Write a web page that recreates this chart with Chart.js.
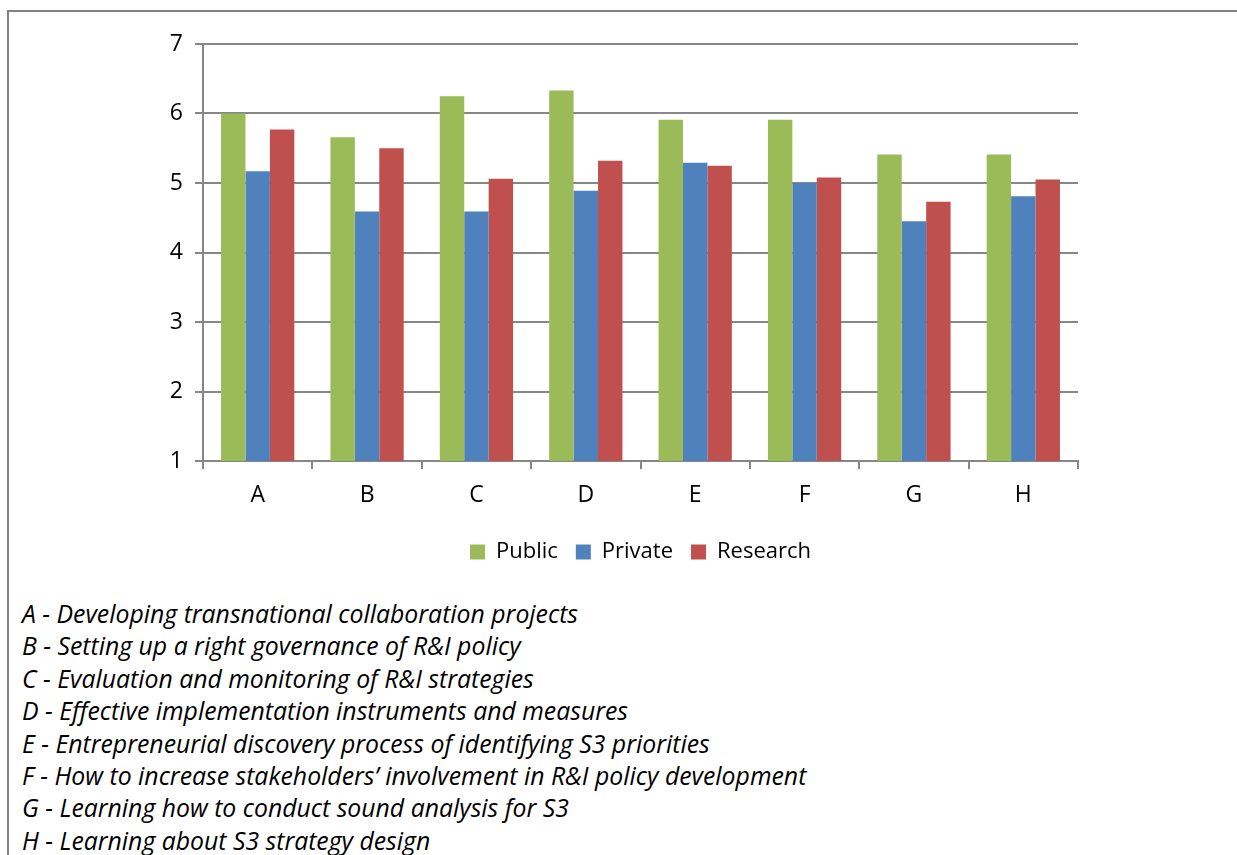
<!DOCTYPE html>
<html>
<head>
<meta charset="utf-8">
<script src="https://cdn.jsdelivr.net/npm/chart.js@4.4.1/dist/chart.umd.min.js"></script>
<style>
  body { margin: 0; background: #fff; }
  #frame {
    position: absolute; left: 7px; top: 10px; width: 1240px; height: 860px;
    border-top: 2px solid #828282; border-left: 2px solid #828282;
  }
  #wrap { position: absolute; left: 0; top: 0; width: 1237px; height: 580px; }
  #notes {
    position: absolute; left: 22px; top: 597px;
    font-family: "Open Sans", sans-serif; font-style: italic;
    font-size: 24.8px; line-height: 32.4px; color: #000; white-space: nowrap;
  }
</style>
</head>
<body>
<div id="frame"></div>
<div id="wrap"><canvas id="barChart"></canvas></div>
<div id="notes"></div>
<script>
// Chart data
var categories = ["A", "B", "C", "D", "E", "F", "G", "H"];
var publicVals = [6.0, 5.66, 6.25, 6.33, 5.91, 5.91, 5.41, 5.41];
var privateVals = [5.17, 4.59, 4.59, 4.89, 5.29, 5.0, 4.45, 4.81];
var researchVals = [5.77, 5.5, 5.06, 5.32, 5.25, 5.08, 4.73, 5.05];
var yTicks = [1, 2, 3, 4, 5, 6, 7];

var descriptions = [
    "A - Developing transnational collaboration projects",
    "B - Setting up a right governance of R&I policy",
    "C - Evaluation and monitoring of R&I strategies",
    "D - Effective implementation instruments and measures",
    "E - Entrepreneurial discovery process of identifying S3 priorities",
    "F - How to increase stakeholders\u2019 involvement in R&I policy development",
    "G - Learning how to conduct sound analysis for S3",
    "H - Learning about S3 strategy design"
];

document.getElementById("notes").innerHTML = descriptions.join("<br>");

var gridGray = "#878787";

var ctx = document.getElementById("barChart").getContext('2d');
var myBarChart = new Chart(ctx, {
    type: 'bar',
    data: {
        labels: categories,
        datasets: [{
                label: "Public",
                data: publicVals,
                backgroundColor: "#9BBB59"
            },
            {
                label: "Private",
                data: privateVals,
                backgroundColor: "#4F81BD"
            },
            {
                label: "Research",
                data: researchVals,
                backgroundColor: "#C0504D"
            }
        ]
    },
    options: {
        responsive: true,
        maintainAspectRatio: false,
        animation: false,
        categoryPercentage: 0.67,
        barPercentage: 1.0,
        layout: {
            padding: { left: 0, right: 159, top: 44, bottom: 7 }
        },
        plugins: {
            tooltip: { enabled: false },
            legend: {
                position: 'bottom',
                fullSize: false,
                labels: {
                    boxWidth: 15,
                    boxHeight: 15,
                    padding: 18,
                    color: "#000",
                    font: { family: "Open Sans", size: 22 }
                }
            }
        },
        scales: {
            x: {
                afterFit: function (scale) { scale.height = 62; },
                grid: {
                    offset: true,
                    drawOnChartArea: false,
                    drawTicks: true,
                    tickLength: 8,
                    color: gridGray,
                    lineWidth: 2
                },
                border: { color: gridGray, width: 2 },
                ticks: {
                    padding: 13,
                    color: "#000",
                    font: { family: "Open Sans", size: 23 }
                }
            },
            y: {
                min: 1,
                max: 7,
                afterFit: function (scale) { scale.width = 203; },
                afterBuildTicks: function (scale) {
                    scale.ticks = yTicks.map(function (v) { return { value: v }; });
                },
                grid: {
                    color: gridGray,
                    lineWidth: 2,
                    tickLength: 8
                },
                border: { color: gridGray, width: 2 },
                ticks: {
                    padding: 12,
                    color: "#000",
                    font: { family: "Open Sans", size: 23 }
                }
            }
        }
    }
});
</script>
</body>
</html>
